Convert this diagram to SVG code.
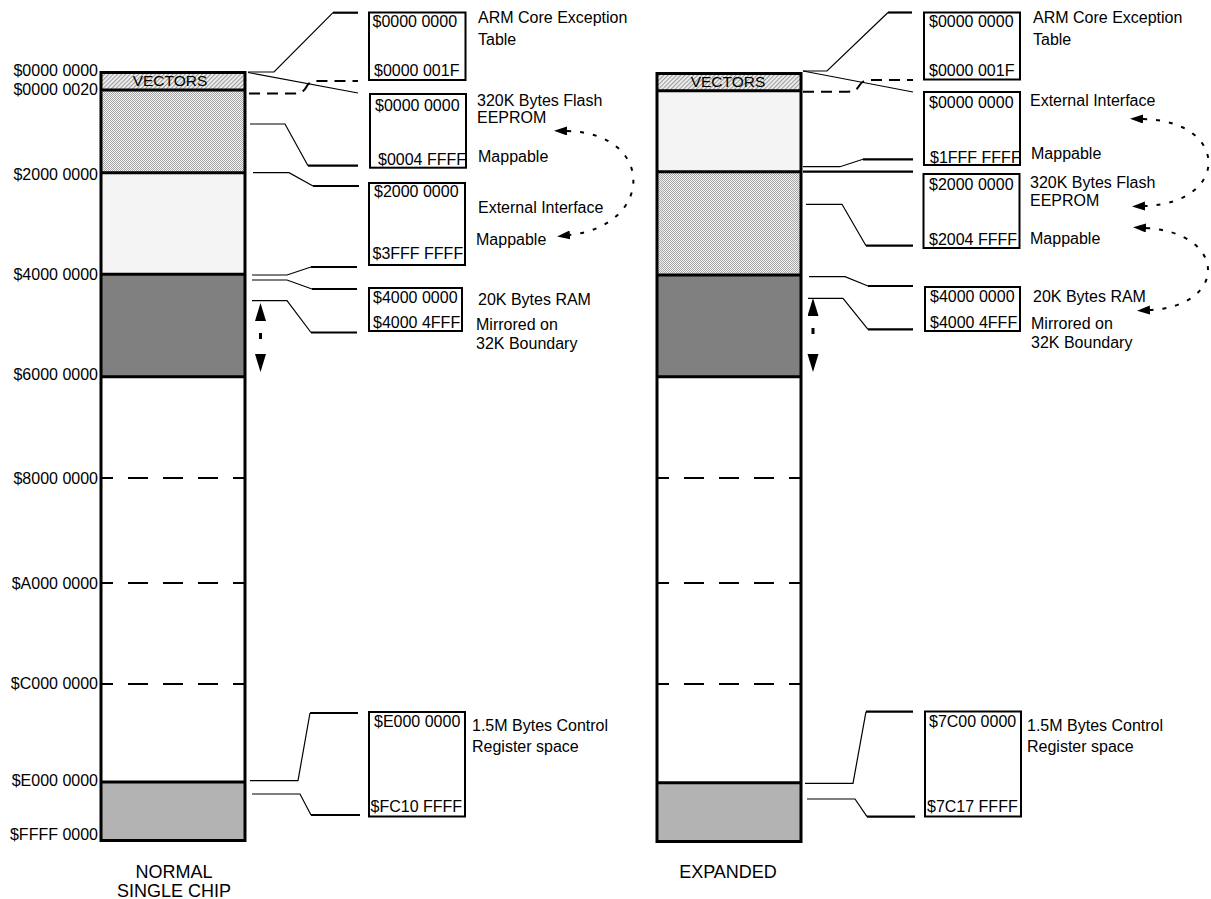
<svg xmlns="http://www.w3.org/2000/svg" width="1211" height="899" viewBox="0 0 1211 899">
<style>
text{font-family:"Liberation Sans",Arial,sans-serif;fill:#000}
.ax{font-size:16px;text-anchor:end}
.bx{font-size:16px}
.lb{font-size:16px}
.vec{font-size:15.5px;text-anchor:middle}
.cap{font-size:18px;text-anchor:middle}
.col{fill:none;stroke:#000;stroke-width:3}
.div{stroke:#000;stroke-width:3}
.dash{stroke:#000;stroke-width:2;stroke-dasharray:20 15;stroke-dashoffset:9}
.box{fill:#fff;stroke:#000;stroke-width:2}
.thin{fill:none;stroke:#000;stroke-width:1.2}
.thick{fill:none;stroke:#000;stroke-width:2.2}
.ldash{fill:none;stroke:#000;stroke-width:2;stroke-dasharray:11 7}
.curve{fill:none;stroke:#000;stroke-width:2;stroke-dasharray:4 9;marker-start:url(#ah);marker-end:url(#ah)}
.varr{fill:none;stroke:#000;stroke-width:3;stroke-dasharray:0 12 6 100;marker-start:url(#vh);marker-end:url(#vh)}
</style>
<defs>
<pattern id="hatch" width="3" height="3" patternUnits="userSpaceOnUse" patternTransform="rotate(-45)">
<rect width="3" height="3" fill="#f0f0f0"/>
<rect width="3" height="1.1" fill="#9c9c9c"/>
</pattern>
<pattern id="dots" width="2" height="2" patternUnits="userSpaceOnUse">
<rect width="2" height="2" fill="#f2f2f2"/>
<rect width="1" height="1" fill="#a6a6a6"/>
<rect x="1" y="1" width="1" height="1" fill="#a6a6a6"/>
</pattern>
<marker id="ah" markerUnits="userSpaceOnUse" markerWidth="14" markerHeight="10" refX="0" refY="4.5" orient="auto-start-reverse">
<path d="M0,0 L13,4.5 L0,9 z" fill="#000"/>
</marker>
<marker id="vh" markerUnits="userSpaceOnUse" markerWidth="19" markerHeight="12" refX="0" refY="5.5" orient="auto-start-reverse">
<path d="M0,0 L18,5.5 L0,11 z" fill="#000"/>
</marker>
</defs>
<rect width="1211" height="899" fill="#fff"/>

<g id="map-normal">
<rect x="101" y="72.5" width="144" height="17.5" fill="url(#hatch)"/>
<rect x="101" y="90" width="144" height="82.7" fill="url(#dots)"/>
<rect x="101" y="172.7" width="144" height="101.6" fill="#f4f4f4"/>
<rect x="101" y="274.3" width="144" height="102.4" fill="#808080"/>
<rect x="101" y="782" width="144" height="58.5" fill="#b3b3b3"/>
<line class="div" x1="101" y1="90" x2="245" y2="90"/>
<line class="div" x1="101" y1="172.7" x2="245" y2="172.7"/>
<line class="div" x1="101" y1="274.3" x2="245" y2="274.3"/>
<line class="div" x1="101" y1="376.7" x2="245" y2="376.7"/>
<line class="div" x1="101" y1="782" x2="245" y2="782"/>
<line class="dash" x1="102" y1="478" x2="244" y2="478"/>
<line class="dash" x1="102" y1="583" x2="244" y2="583"/>
<line class="dash" x1="102" y1="684" x2="244" y2="684"/>
<rect class="col" x="101" y="72.5" width="144" height="768"/>
<text class="vec" x="170" y="86">VECTORS</text>
<text class="ax" x="98" y="76">$0000 0000</text>
<text class="ax" x="98" y="94.5">$0000 0020</text>
<text class="ax" x="98" y="179.5">$2000 0000</text>
<text class="ax" x="98" y="280">$4000 0000</text>
<text class="ax" x="98" y="380">$6000 0000</text>
<text class="ax" x="98" y="484">$8000 0000</text>
<text class="ax" x="98" y="589">$A000 0000</text>
<text class="ax" x="98" y="688.5">$C000 0000</text>
<text class="ax" x="98" y="785.5">$E000 0000</text>
<text class="ax" x="98" y="840">$FFFF 0000</text>
<text class="cap" x="174" y="878">NORMAL</text>
<text class="cap" x="174" y="897">SINGLE CHIP</text>
</g>

<g id="map-expanded">
<rect x="657" y="73.5" width="144" height="17.2" fill="url(#hatch)"/>
<rect x="657" y="90.7" width="144" height="81" fill="#f4f4f4"/>
<rect x="657" y="171.7" width="144" height="103.3" fill="url(#dots)"/>
<rect x="657" y="275" width="144" height="101.7" fill="#808080"/>
<rect x="657" y="782.7" width="144" height="58.8" fill="#b3b3b3"/>
<line class="div" x1="657" y1="90.7" x2="801" y2="90.7"/>
<line class="div" x1="657" y1="171.7" x2="801" y2="171.7"/>
<line class="div" x1="657" y1="275" x2="801" y2="275"/>
<line class="div" x1="657" y1="376.7" x2="801" y2="376.7"/>
<line class="div" x1="657" y1="782.7" x2="801" y2="782.7"/>
<line class="dash" x1="658" y1="478" x2="800" y2="478"/>
<line class="dash" x1="658" y1="583" x2="800" y2="583"/>
<line class="dash" x1="658" y1="684" x2="800" y2="684"/>
<rect class="col" x="657" y="73.5" width="144" height="768"/>
<text class="vec" x="728" y="87">VECTORS</text>
<text class="cap" x="728" y="878">EXPANDED</text>
</g>

<g id="n-vectors-l">
<rect class="box" x="369" y="12.5" width="96.5" height="67.5"/>
<text class="bx" x="372.5" y="27">$0000 0000</text>
<text class="bx" x="374" y="75.5">$0000 001F</text>
<text class="lb" x="478" y="23">ARM Core Exception</text>
<text class="lb" x="478" y="45">Table</text>
</g>
<g id="n-flash-l">
<rect class="box" x="370" y="94" width="96" height="73.7"/>
<text class="bx" x="375" y="110.5">$0000 0000</text>
<text class="bx" x="378" y="165">$0004 FFFF</text>
<text class="lb" x="477" y="106">320K Bytes Flash</text>
<text class="lb" x="477" y="123">EEPROM</text>
<text class="lb" x="478" y="161.5">Mappable</text>
</g>
<g id="n-ext-l">
<rect class="box" x="369" y="183" width="96" height="82"/>
<text class="bx" x="374" y="197">$2000 0000</text>
<text class="bx" x="372.5" y="259">$3FFF FFFF</text>
<text class="lb" x="478" y="212.5">External Interface</text>
<text class="lb" x="476" y="245">Mappable</text>
</g>
<g id="n-ram-l">
<rect class="box" x="369" y="288" width="93" height="43"/>
<text class="bx" x="373" y="303">$4000 0000</text>
<text class="bx" x="373" y="328">$4000 4FFF</text>
<text class="lb" x="478" y="305">20K Bytes RAM</text>
<text class="lb" x="476" y="330">Mirrored on</text>
<text class="lb" x="476" y="349">32K Boundary</text>
</g>
<g id="n-ctrl-l">
<rect class="box" x="369" y="712" width="96" height="104.5"/>
<text class="bx" x="374" y="727">$E000 0000</text>
<text class="bx" x="370.5" y="812">$FC10 FFFF</text>
<text class="lb" x="472" y="731">1.5M Bytes Control</text>
<text class="lb" x="472" y="752">Register space</text>
</g>

<g id="n-vectors-r">
<rect class="box" x="924" y="12.5" width="96" height="67"/>
<text class="bx" x="929" y="26.5">$0000 0000</text>
<text class="bx" x="929" y="75.5">$0000 001F</text>
<text class="lb" x="1033" y="23">ARM Core Exception</text>
<text class="lb" x="1033" y="45">Table</text>
</g>
<g id="n-ext-r">
<rect class="box" x="924" y="92" width="96" height="73"/>
<text class="bx" x="929" y="108">$0000 0000</text>
<text class="bx" x="930" y="162.5">$1FFF FFFF</text>
<text class="lb" x="1030" y="105.5">External Interface</text>
<text class="lb" x="1031" y="159">Mappable</text>
</g>
<g id="n-flash-r">
<rect class="box" x="923.5" y="174" width="96" height="74"/>
<text class="bx" x="929" y="190">$2000 0000</text>
<text class="bx" x="929" y="245">$2004 FFFF</text>
<text class="lb" x="1030" y="188">320K Bytes Flash</text>
<text class="lb" x="1030" y="206">EEPROM</text>
<text class="lb" x="1030" y="244">Mappable</text>
</g>
<g id="n-ram-r">
<rect class="box" x="925" y="287" width="95" height="44"/>
<text class="bx" x="930" y="302">$4000 0000</text>
<text class="bx" x="930" y="328">$4000 4FFF</text>
<text class="lb" x="1033" y="302">20K Bytes RAM</text>
<text class="lb" x="1031" y="329">Mirrored on</text>
<text class="lb" x="1031" y="348">32K Boundary</text>
</g>
<g id="n-ctrl-r">
<rect class="box" x="925" y="711.5" width="96" height="105"/>
<text class="bx" x="929" y="727">$7C00 0000</text>
<text class="bx" x="927" y="812">$7C17 FFFF</text>
<text class="lb" x="1027" y="731">1.5M Bytes Control</text>
<text class="lb" x="1027" y="752">Register space</text>
</g>

<g id="connectors">
<polyline class="thin" points="248,72 274,72 333,12.7"/>
<line class="thick" x1="333" y1="12.7" x2="358" y2="12.7"/>
<line class="thin" x1="248" y1="72.5" x2="358" y2="93"/>
<path class="ldash" d="M249,93.5 L295,93.5 Q303,93.5 306,87.5 Q309,81 317,81 L358,81"/>
<polyline class="thin" points="250,124 285,124 308,165.7"/>
<line class="thick" x1="308" y1="165.7" x2="358" y2="165.7"/>
<polyline class="thin" points="253,172.7 289,172.7 313,186"/>
<line class="thick" x1="313" y1="186" x2="359" y2="186"/>
<polyline class="thin" points="252,275 287,275 311,267"/>
<line class="thick" x1="311" y1="267" x2="357" y2="267"/>
<polyline class="thin" points="252,280 287,280 312,289"/>
<line class="thick" x1="312" y1="289" x2="357" y2="289"/>
<polyline class="thin" points="252,300.7 287,300.7 311,332.5"/>
<line class="thick" x1="311" y1="332.5" x2="357" y2="332.5"/>
<polyline class="thin" points="250,780.7 298,780.7 310,713"/>
<line class="thick" x1="310" y1="713" x2="358" y2="713"/>
<polyline class="thin" points="252,794 300,794 311,815"/>
<line class="thick" x1="311" y1="815" x2="360" y2="815"/>

<polyline class="thin" points="803,71 827,71 888,12.5"/>
<line class="thick" x1="888" y1="12.5" x2="912" y2="12.5"/>
<line class="thin" x1="803" y1="71" x2="913" y2="92"/>
<path class="ldash" d="M803,91.7 L848,91.7 Q856,91.7 859,86 Q862,80 870,80 L913,80"/>
<polyline class="thin" points="803,166.7 840,166.7 863,159.3"/>
<line class="thick" x1="863" y1="159.3" x2="913" y2="159.3"/>
<line class="thick" x1="803" y1="171.7" x2="913" y2="171.7"/>
<polyline class="thin" points="806,204.3 842,204.3 866,245.7"/>
<line class="thick" x1="866" y1="245.7" x2="913" y2="245.7"/>
<polyline class="thin" points="809,276.7 845,276.7 868,286"/>
<line class="thick" x1="868" y1="286" x2="913" y2="286"/>
<polyline class="thin" points="808,298.3 843,298.3 868,329.3"/>
<line class="thick" x1="868" y1="329.3" x2="913" y2="329.3"/>
<polyline class="thin" points="805,783.3 853,783.3 866,711.7"/>
<line class="thick" x1="866" y1="711.7" x2="913" y2="711.7"/>
<polyline class="thin" points="807,799 855,799 867,816.7"/>
<line class="thick" x1="867" y1="816.7" x2="915" y2="816.7"/>

<path class="curve" d="M567,131 C655,133 655,225 570,235"/>
<path class="curve" d="M1143,119 C1230,121 1230,203 1145,206"/>
<path class="curve" d="M1146,228 C1228,233 1228,306 1150,310"/>

<line class="varr" x1="260.5" y1="321" x2="260.5" y2="354"/>
<line class="varr" x1="813" y1="316" x2="813" y2="354"/>
</g>
</svg>
